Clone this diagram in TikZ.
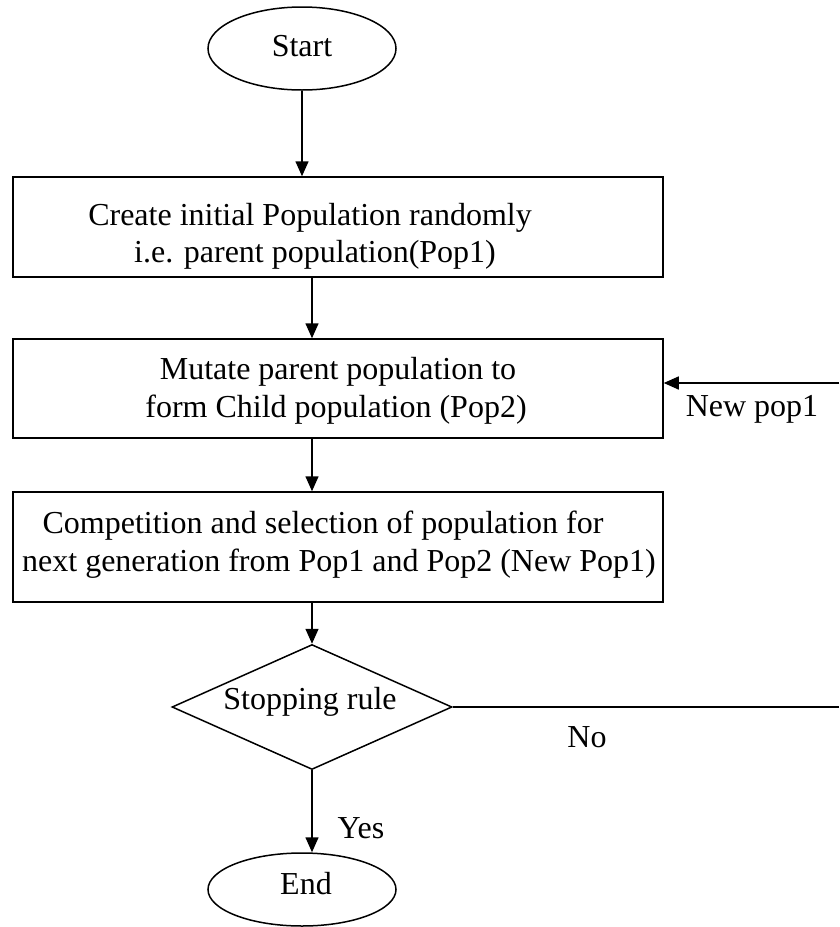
\documentclass[tikz,border=0pt]{standalone}
\usepackage{fontspec}
\setmainfont{Liberation Serif}
\usetikzlibrary{shapes.geometric,arrows.meta}
\begin{document}
\begin{tikzpicture}[x=1pt,y=-1pt,
  every node/.style={font=\fontsize{32}{38}\selectfont},
  ln/.style={line width=1.5pt},
  arr/.style={line width=1.5pt,-{Triangle[length=15pt,width=13pt]}},
  boxn/.style={draw,line width=1.5pt,minimum width=650pt,inner sep=0pt},
  term/.style={draw,ellipse,line width=1.5pt,minimum width=188pt,inner sep=0pt},
  txt/.style={anchor=base,inner sep=0pt}]
\useasboundingbox (0,0) rectangle (839,927);
% shapes
\node[term,minimum height=83pt] (start) at (302,48.5) {};
\node[boxn,minimum height=100pt] (box1) at (338,227) {};
\node[boxn,minimum height=99pt] (box2) at (338,388.5) {};
\node[boxn,minimum height=110pt] (box3) at (338,547) {};
\node[draw,diamond,line width=1.5pt,minimum width=280pt,minimum height=125pt,inner sep=0pt] (dia) at (312,707) {};
\node[term,minimum height=73pt] (endn) at (302,889.5) {};
% texts
\node[txt] (startT) at (302,56) {Start};
\node[txt] (b1a) at (310,225) {Create initial Population randomly};
\node[txt] (b1b) at (315,262) {i.e. parent population(Pop1)};
\node[txt] (b2a) at (338,379) {Mutate parent population to};
\node[txt] (b2b) at (336,417) {form Child population (Pop2)};
\node[txt] (b3a) at (323,533) {Competition and selection of population for};
\node[txt] (b3b) at (339,571) {next generation from Pop1 and Pop2 (New Pop1)};
\node[txt] (diaT) at (310,709) {Stopping rule};
\node[txt] (endT) at (306,894) {End};
\node[txt] (yes) at (361,838) {Yes};
\node[txt] (no) at (587,747) {No};
\node[txt] (newp) at (752,416) {New pop1};
% connectors
\draw[arr] (start.south) -- (start.south |- box1.north);
\draw[arr] (dia.north |- box1.south) -- (dia.north |- box2.north);
\draw[arr] (dia.north |- box2.south) -- (dia.north |- box3.north);
\draw[arr] (dia.north |- box3.south) -- (dia.north);
\draw[arr] (dia.south) -- (dia.south |- endn.north);
\coordinate (noR) at (839,707);
\draw[ln] (dia.east) -- (noR);
\coordinate (fbR) at (839,383);
\draw[arr] (fbR) -- (fbR -| box2.east);
\end{tikzpicture}
\end{document}
